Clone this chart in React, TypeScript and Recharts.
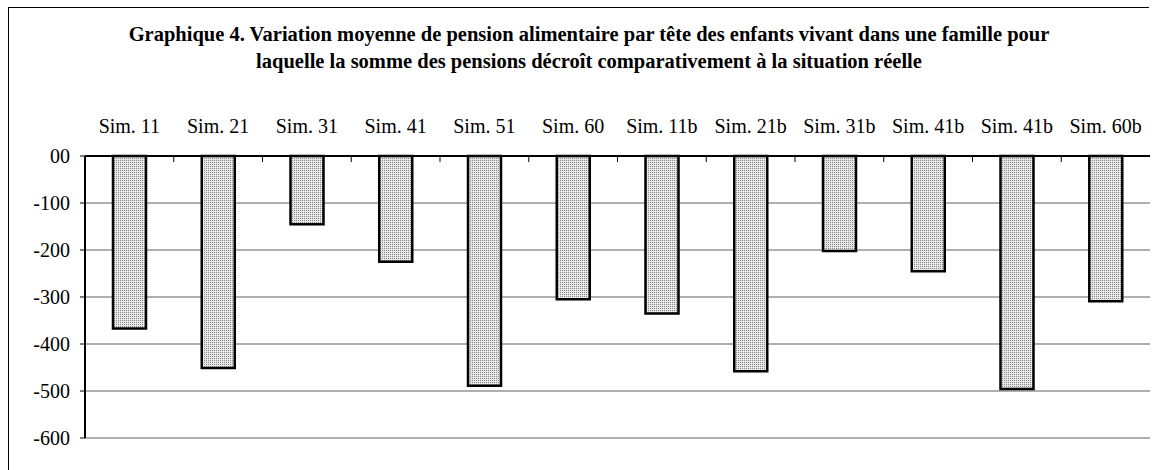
import { BarChart, Bar, XAxis, YAxis, CartesianGrid } from 'recharts';

const categories = [
  'Sim. 11', 'Sim. 21', 'Sim. 31', 'Sim. 41', 'Sim. 51', 'Sim. 60',
  'Sim. 11b', 'Sim. 21b', 'Sim. 31b', 'Sim. 41b', 'Sim. 41b', 'Sim. 60b',
];
const variation = [-367, -451, -145, -225, -489, -305, -335, -458, -202, -245, -496, -309];
const yTicks = [0, -100, -200, -300, -400, -500, -600];

const titleLines = [
  'Graphique 4. Variation moyenne de pension alimentaire par tête des enfants vivant dans une famille pour',
  'laquelle la somme des pensions décroît comparativement à la situation réelle',
];

const data = categories.map((name, i) => ({ name, value: variation[i] }));

const W = 1158;
const H = 470;
const PLOT_TOP = 156;
const X_AXIS_H = 40;
const SERIF = '"Liberation Serif", "Times New Roman", serif';

// category label above the plot + small boundary tick pointing down
function CategoryTick(props: any) {
  const { x, payload, index, width } = props;
  const band = width / categories.length;
  const edge = x + band / 2;
  return (
    <g>
      <text x={x} y={PLOT_TOP - 23} textAnchor="middle" fontSize={20} fontFamily={SERIF} fill="#000">
        {payload.value}
      </text>
      {index < categories.length - 1 && (
        <line x1={edge} x2={edge} y1={PLOT_TOP} y2={PLOT_TOP + 6} stroke="#000" strokeWidth={1} />
      )}
    </g>
  );
}

export default function App() {
  return (
    <div style={{ position: 'absolute', left: 0, top: 0, width: W, height: H, background: '#fff', overflow: 'hidden' }}>
      <div
        style={{
          position: 'absolute',
          left: 8,
          top: 7,
          width: 1140,
          height: 480,
          borderTop: '1.5px solid #000',
          borderLeft: '1.5px solid #000',
        }}
      />
      <div
        style={{
          position: 'absolute',
          left: 39,
          width: 1100,
          top: 21,
          textAlign: 'center',
          fontFamily: SERIF,
          fontWeight: 'bold',
          fontSize: 20.5,
          lineHeight: '27px',
          color: '#000',
          whiteSpace: 'nowrap',
        }}
      >
        {titleLines.map((t, i) => (
          <div key={i}>{t}</div>
        ))}
      </div>
      <div style={{ position: 'absolute', left: 0, top: 0 }}>
        <BarChart
          width={W}
          height={H}
          data={data}
          margin={{ top: PLOT_TOP - X_AXIS_H, right: 8, bottom: 32, left: 0 }}
        >
          <defs>
            <pattern id="dots" width={2} height={2} patternUnits="userSpaceOnUse">
              <rect width={2} height={2} fill="#e6e6e6" />
              <rect x={0} y={0} width={1} height={1} fill="#8a8a8a" />
            </pattern>
          </defs>
          <CartesianGrid vertical={false} stroke="#606060" strokeWidth={1.2} />
          <XAxis
            dataKey="name"
            orientation="top"
            height={X_AXIS_H}
            interval={0}
            tickLine={false}
            axisLine={{ stroke: '#000', strokeWidth: 2 }}
            tick={<CategoryTick />}
          />
          <XAxis
            xAxisId="b"
            dataKey="name"
            orientation="bottom"
            height={0}
            tick={false}
            tickLine={false}
            axisLine={{ stroke: '#999', strokeWidth: 2 }}
          />
          <YAxis
            width={85}
            domain={[-600, 0]}
            ticks={yTicks}
            interval={0}
            tickSize={5}
            tickMargin={10}
            tickFormatter={(v: number) => (v === 0 ? '00' : String(v))}
            tick={{ fontSize: 20, fontFamily: SERIF, fill: '#000' }}
            tickLine={{ stroke: '#000' }}
            axisLine={{ stroke: '#000', strokeWidth: 2 }}
          />
          <YAxis
            yAxisId="r"
            orientation="right"
            width={0}
            domain={[-600, 0]}
            tick={false}
            tickLine={false}
            axisLine={{ stroke: '#999', strokeWidth: 2 }}
          />
          <Bar dataKey="value" fill="url(#dots)" stroke="#000" strokeWidth={2.5} barSize={33} isAnimationActive={false} />
        </BarChart>
      </div>
    </div>
  );
}
